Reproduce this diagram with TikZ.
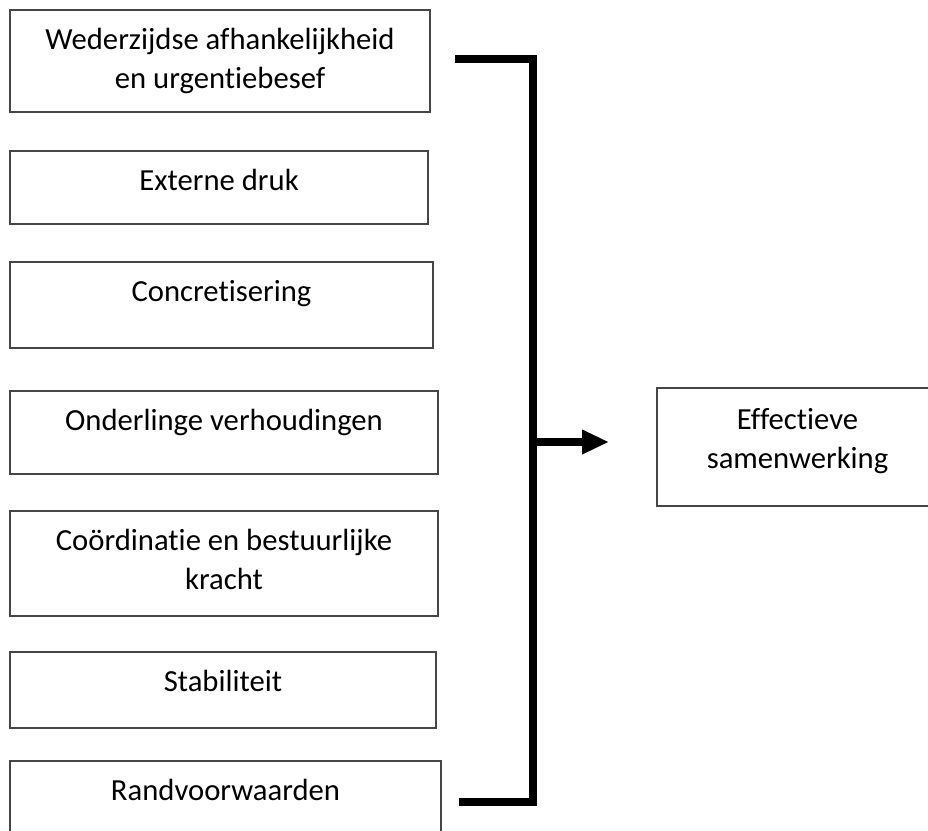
\documentclass[tikz,border=0pt]{standalone}
\usepackage{fontspec}
\setmainfont{Carlito}[Ligatures={NoCommon}]
\usetikzlibrary{arrows.meta}
\definecolor{boxline}{RGB}{70,70,70}
\tikzset{
  box/.style={draw=boxline, line width=1pt, rectangle, inner sep=0pt, fill=white},
  txt/.style={inner sep=0pt, anchor=base, align=center, font=\fontsize{23pt}{29.25pt}\selectfont},
  bracketline/.style={line width=6pt, line join=miter, black},
}
\begin{document}
\begin{tikzpicture}[x=0.75pt,y=-0.75pt]
\useasboundingbox (0,0) rectangle (928,831);
\clip (0,0) rectangle (928,831);
\fill[white] (0,0) rectangle (928,831);
% boxes (px coordinates)
\node[box, minimum width=315pt, minimum height=76.5pt] (b1) at (220,61) {};
\node[box, minimum width=313.5pt, minimum height=54.75pt] (b2) at (219,187.5) {};
\node[box, minimum width=317.25pt, minimum height=64.5pt] (b3) at (221.5,305) {};
\node[box, minimum width=321pt, minimum height=62.25pt] (b4) at (224,432.5) {};
\node[box, minimum width=321pt, minimum height=78.75pt] (b5) at (224,563.5) {};
\node[box, minimum width=319.5pt, minimum height=57pt] (b6) at (223,690) {};
\node[box, minimum width=323.25pt, minimum height=63pt] (b7) at (225.5,803) {};
\node[box, minimum width=210.75pt, minimum height=88.5pt] (r) at (797.5,447) {};
% texts (base = baseline of the last line)
\node[txt] (t1) at ([yshift=-59.25pt]b1.north) {Wederzijdse afhankelijkheid\\en urgentiebesef};
\node[txt] (t2) at ([yshift=-30pt]b2.north) {Externe druk};
\node[txt] (t3) at ([yshift=-30pt]b3.north) {Concretisering};
\node[txt] (t4) at ([yshift=-30pt]b4.north) {Onderlinge verhoudingen};
\node[txt] (t5) at ([yshift=-59.25pt]b5.north) {Coördinatie en bestuurlijke\\kracht};
\node[txt] (t6) at ([yshift=-30pt]b6.north) {Stabiliteit};
\node[txt] (t7) at ([yshift=-30pt]b7.north) {Randvoorwaarden};
\node[txt] (tr) at ([yshift=-60.5pt]r.north) {Effectieve\\samenwerking};
% bracket
\coordinate (ctop) at (455,59);
\coordinate (ctopc) at (533,59);
\coordinate (cbotc) at (533,802);
\coordinate (cbot) at (459,802);
\coordinate (cmid) at (533,442);
\coordinate (ctip) at (609,442);
\draw[bracketline] (ctop) -- (ctopc) -- (cbotc) -- (cbot);
\draw[bracketline, -{Triangle[length=20.25pt, width=17.25pt]}] (cmid) -- (ctip);
\end{tikzpicture}
\end{document}
